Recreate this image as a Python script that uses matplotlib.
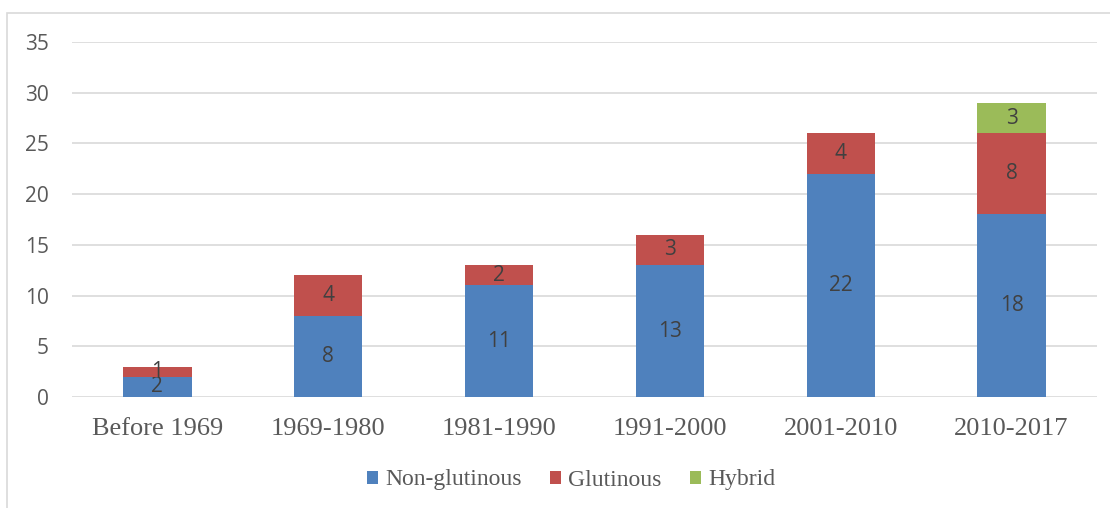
import matplotlib.pyplot as plt
import matplotlib.patches as mpatches
import numpy as np

periods = ['Before 1969', '1969-1980', '1981-1990', '1991-2000', '2001-2010', '2010-2017']
non_glutinous = [2, 8, 11, 13, 22, 18]
glutinous = [1, 4, 2, 3, 4, 8]
hybrid = [0, 0, 0, 0, 0, 3]

series = [('Non-glutinous', non_glutinous, '#4F81BD'),
          ('Glutinous', glutinous, '#C0504D'),
          ('Hybrid', hybrid, '#9BBB59')]

fig = plt.figure(figsize=(11.1, 5.08), dpi=100)
ax = fig.add_axes([72 / 1110, 1 - 397 / 508, (1097 - 72) / 1110, (397 - 42) / 508])

# chart-area border (light gray frame)
fig.patches.append(mpatches.Rectangle((7 / 1110, -0.05), 1.2, 1 - 13 / 508 + 0.05,
                                      transform=fig.transFigure, fill=False,
                                      edgecolor='#D9D9D9', linewidth=1.2, zorder=0))

x = np.arange(len(periods))
bottom = np.zeros(len(periods))
for name, vals, color in series:
    vals = np.array(vals)
    bars = ax.bar(x, vals, width=0.4, bottom=bottom, color=color, label=name, zorder=3)
    labels = [str(v) if v > 0 else '' for v in vals]
    ax.bar_label(bars, labels=labels, label_type='center', color='#404040',
                 fontsize=15, family='Open Sans')
    bottom += vals

ax.set_xlim(-0.5, len(periods) - 0.5)
ax.set_ylim(0, 35)
ax.set_yticks(range(0, 36, 5))
ax.yaxis.grid(True, color='#D9D9D9', linewidth=1.2, zorder=0)
ax.set_axisbelow(True)
for s in ax.spines.values():
    s.set_visible(False)
ax.tick_params(axis='both', length=0)
ax.tick_params(axis='y', pad=16.5, labelsize=15, labelcolor='#595959')
ax.tick_params(axis='x', pad=15, labelsize=19, labelcolor='#595959')
for t in ax.get_yticklabels():
    t.set_family('Open Sans')
ax.set_xticks(x)
ax.set_xticklabels(periods, family='Liberation Serif')

leg = fig.legend(loc='center', bbox_to_anchor=(571 / 1110, 1 - 480 / 508), ncol=3,
                 frameon=False, prop={'family': 'Liberation Serif', 'size': 17},
                 handlelength=0.48, handleheight=0.48, handletextpad=0.3, columnspacing=1.2)
for t in leg.get_texts():
    t.set_color('#595959')

fig.savefig('out.png', dpi=100)
